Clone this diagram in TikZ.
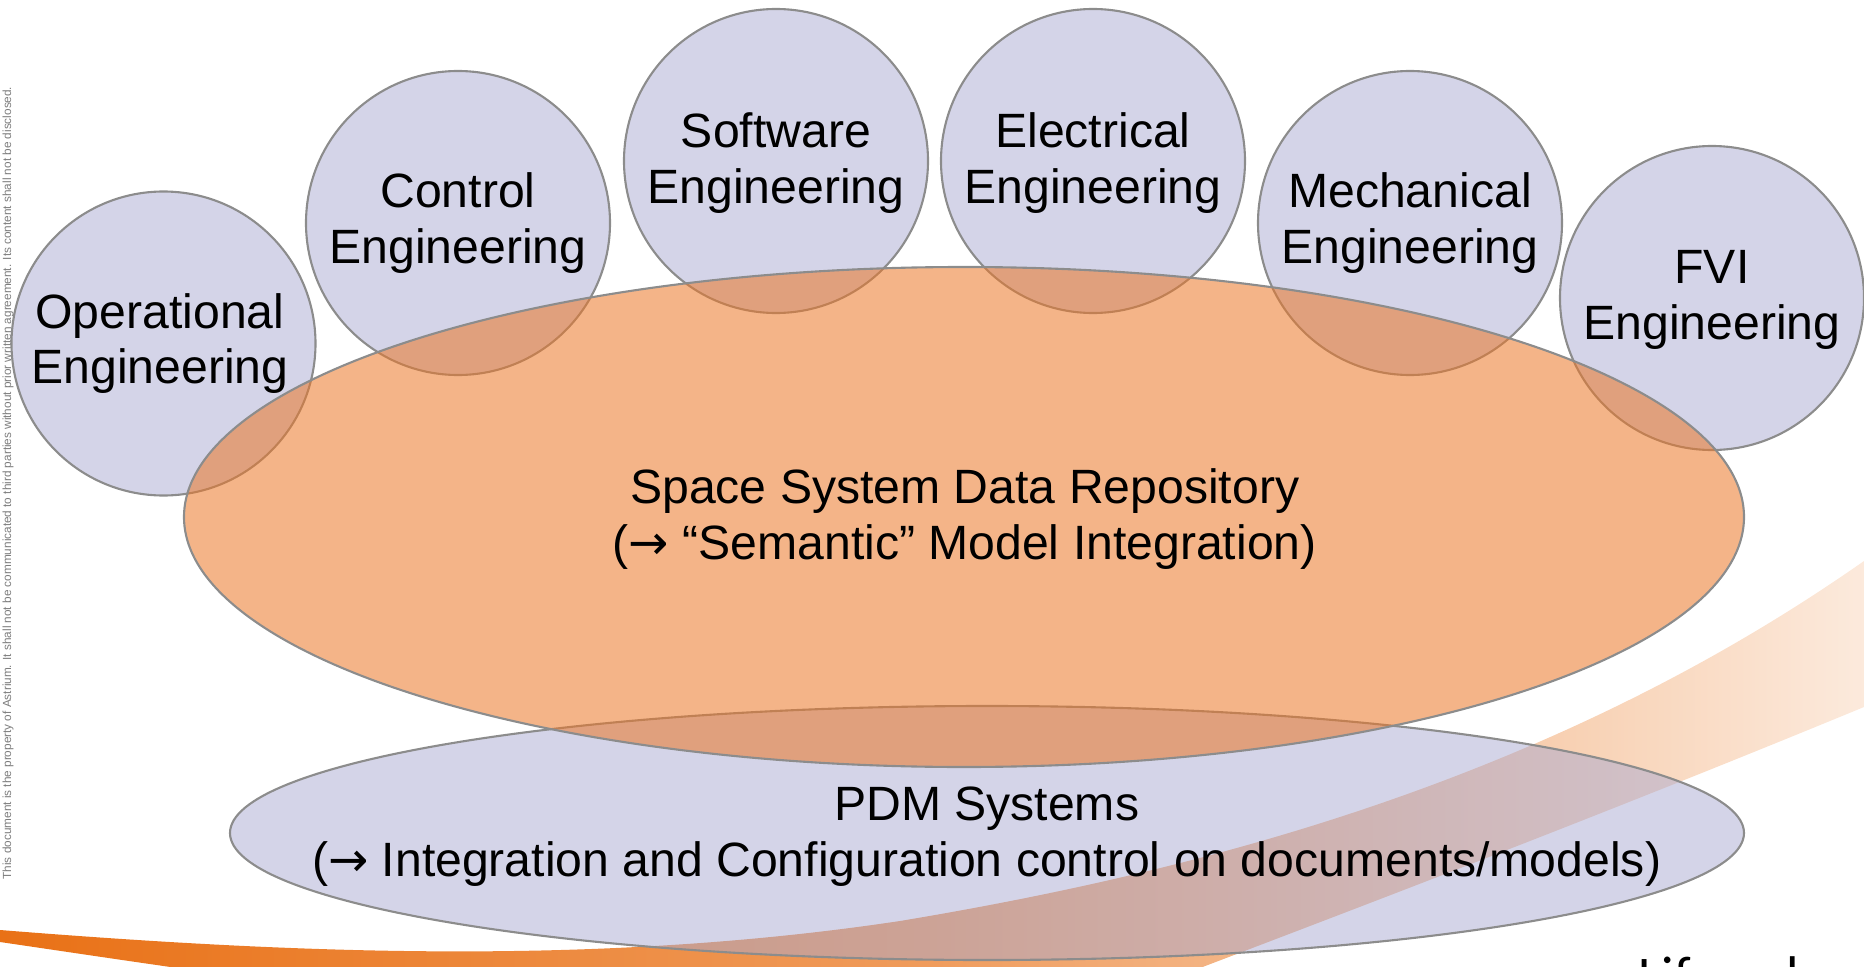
\documentclass[tikz,border=0pt]{standalone}
\usepackage{fontspec}
\setmainfont{Liberation Sans}
\newfontfamily\lifefont{Carlito}
\newfontfamily\arrowfont{DejaVu Sans}
\newcommand{\toarrow}{{\arrowfont →}}

\definecolor{lav}{RGB}{170,170,209}
\definecolor{edgegray}{RGB}{140,140,140}
\definecolor{repo}{RGB}{235,119,39}
\definecolor{swoosh}{RGB}{233,113,22}
\definecolor{notegray}{RGB}{125,125,125}

\tikzset{
  bubble/.style={draw=edgegray, line width=0.6pt, fill=lav, fill opacity=0.5},
  repofill/.style={draw=edgegray, line width=0.6pt, fill=repo, fill opacity=0.55},
  txt/.style={align=center, inner sep=0pt, font=\fontsize{13.7}{15.9}\selectfont}
}

\begin{document}
\begin{tikzpicture}
\useasboundingbox (0,0) rectangle (18.64,9.66);
\clip (0,0) rectangle (18.64,9.66);

\shade[left color=swoosh, right color=swoosh!15, middle color=swoosh!70] (0,0.36) .. controls (3,0.12) and (6,0.0) .. (9,0.45) .. controls (12,0.95) and (15.5,1.85) .. (18.64,4.05) -- (18.64,2.59) .. controls (16,1.5) and (13.5,0.55) .. (11,-0.4) .. controls (8,-1.0) and (3,-0.2) .. (0,0.24) -- cycle;

\node[rotate=90, text=notegray, inner sep=0pt, font=\fontsize{3.35}{4}\selectfont] (note) at (0.08,4.83) {This document is the property of Astrium. It shall not be communicated to third parties without prior written agreement. Its content shall not be disclosed.};

\draw[bubble] (1.635,6.225) circle (1.52);
\draw[bubble] (4.58,7.43) circle (1.52);
\draw[bubble] (7.76,8.05) circle (1.52);
\draw[bubble] (10.93,8.05) circle (1.52);
\draw[bubble] (14.10,7.43) circle (1.52);
\draw[bubble] (17.12,6.68) circle (1.52);

\draw[bubble] (9.87,1.33) ellipse (7.57 and 1.27);
\draw[repofill] (9.64,4.49) ellipse (7.80 and 2.50);

\node[txt] (openg) at (1.60,6.225) {Operational\\Engineering};
\node[txt] (ctleng) at (4.58,7.43) {Control\\Engineering};
\node[txt] (sweng) at (7.76,8.03) {Software\\Engineering};
\node[txt] (eleng) at (10.93,8.03) {Electrical\\Engineering};
\node[txt] (meceng) at (14.10,7.43) {Mechanical\\Engineering};
\node[txt] (fvieng) at (17.12,6.66) {FVI\\Engineering};

\node[txt] (ssdr) at (9.647,4.47) {Space System Data Repository\\(\toarrow{} “Semantic” Model Integration)};
\node[txt] (pdm) at (9.867,1.29) {PDM Systems\\(\toarrow{} Integration and Configuration control on documents/models)};

\node[anchor=base west, inner sep=0pt, font=\lifefont\fontsize{15.5}{18}\selectfont] (life) at (16.38,-0.28) {Lifecycle};
\end{tikzpicture}
\end{document}
